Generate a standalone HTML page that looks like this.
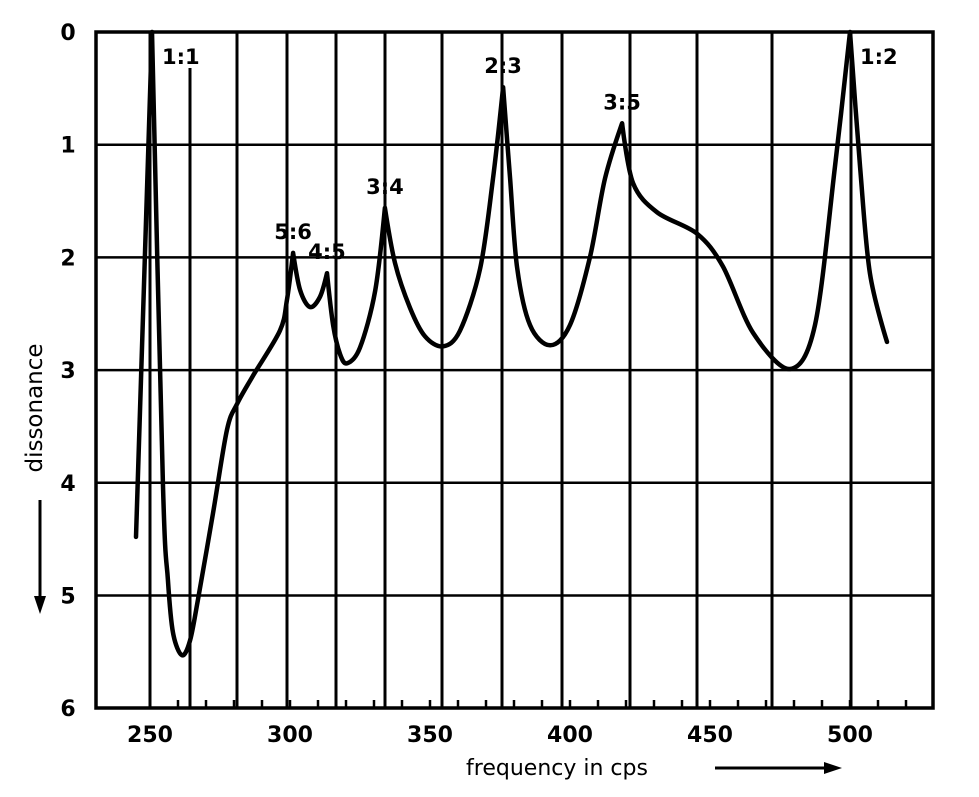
<!DOCTYPE html>
<html><head><meta charset="utf-8"><style>
html,body{margin:0;padding:0;background:#fff;}
svg{display:block;font-family:"DejaVu Sans","Liberation Sans",sans-serif;font-weight:bold;}
</style></head><body>
<svg id="chart" width="979" height="797" viewBox="0 0 979 797">
<g id="grid"></g>
<g id="axes"></g>
<g id="series"></g>
<g id="labels"></g>
<text x="42" y="408" font-size="23" font-weight="normal" transform="rotate(-90 42 408)" text-anchor="middle">dissonance</text>
<line x1="40" y1="500" x2="40" y2="600" stroke="#000" stroke-width="3"/>
<polygon points="34,596 46,596 40,614" fill="#000"/>
<text x="557" y="775" font-size="22" font-weight="normal" text-anchor="middle">frequency in cps</text>
<line x1="715" y1="768" x2="828" y2="768" stroke="#000" stroke-width="3"/>
<polygon points="824,762 824,774 842,768" fill="#000"/>
</svg>
<script>
const freqs=[245.0,250.7,254.6,256.4,258.2,261.4,264.3,267.1,272.5,277.5,281.1,286.8,296.4,298.9,301.1,303.6,307.1,310.7,313.2,315.4,317.9,320.4,325,330.4,333.9,337.5,342.9,348.2,354.6,360.7,367.9,372.5,376.1,378.6,381.1,385.7,392.9,400,407.1,412.5,418.6,422.5,431.1,445.4,454.6,465.4,478.6,487.5,494.6,500,503.6,507.1,513.2];
const dissonance=[4.48,0,4.0,4.86,5.33,5.53,5.4,5.04,4.27,3.53,3.3,3.05,2.65,2.38,1.96,2.29,2.44,2.35,2.14,2.6,2.86,2.94,2.8,2.3,1.56,2.05,2.45,2.7,2.79,2.65,2.1,1.3,0.49,1.3,2.09,2.6,2.78,2.6,2.0,1.3,0.81,1.34,1.6,1.79,2.08,2.67,2.99,2.6,1.2,0,1.2,2.14,2.75];
const xTicks=[250,300,350,400,450,500];
const yTicks=[0,1,2,3,4,5,6];
const ratioNames=["1:1","5:6","4:5","3:4","2:3","3:5","1:2"];
const ratioFreqs=[250.7,301.1,313.2,333.9,376.1,418.6,500];
const ratioDiss=[0,1.96,2.14,1.56,0.49,0.81,0];
const NS="http://www.w3.org/2000/svg";
const X=f=>150+(f-250)*2.8;
const Y=d=>32+d*112.7;
function mk(parent,tag,attrs){const e=document.createElementNS(NS,tag);for(const k in attrs)e.setAttribute(k,attrs[k]);document.getElementById(parent).appendChild(e);return e;}
const vgrid=[[150,32],[190,68],[237,32],[287,32],[336,32],[385,32],[442,32],[502,32],[562,32],[630,32],[697,32],[772,32],[851,32]];
vgrid.forEach(v=>{const l=mk('grid','line',{x1:v[0],y1:v[1],x2:v[0],y2:708,stroke:'#000','stroke-width':3});

});
yTicks.forEach(t=>{if(t===0||t===6)return;const l=mk('grid','line',{x1:96,y1:Y(t),x2:933,y2:Y(t),stroke:'#000','stroke-width':2.5});

});
for(let f=260;f<=520;f+=10){const l=mk('grid','line',{x1:X(f),y1:700,x2:X(f),y2:708,stroke:'#000','stroke-width':2.5});

}
const fr=mk('axes','rect',{x:96,y:32,width:837,height:676,fill:'none',stroke:'#000','stroke-width':3.5});


xTicks.forEach(t=>{const e=mk('axes','text',{x:X(t),y:742,'font-size':22,'text-anchor':'middle'});e.textContent=t;

});
yTicks.forEach(t=>{const e=mk('axes','text',{x:68,y:Y(t)+8,'font-size':22,'text-anchor':'middle'});e.textContent=t;

});
const P=freqs.map((f,i)=>[X(f),Y(dissonance[i])]);
const peakSet=new Set(ratioFreqs.map(f=>freqs.indexOf(f)));
let d='M'+P[0][0].toFixed(1)+','+P[0][1].toFixed(1);
const k=0.16;
for(let i=0;i<P.length-1;i++){
  const p0=P[Math.max(0,i-1)],p1=P[i],p2=P[i+1],p3=P[Math.min(P.length-1,i+2)];
  const s1=peakSet.has(i)||i===0?0:k, s2=peakSet.has(i+1)||i+1===P.length-1?0:k;
  const c1=[p1[0]+(p2[0]-p0[0])*s1,p1[1]+(p2[1]-p0[1])*s1];
  const c2=[p2[0]-(p3[0]-p1[0])*s2,p2[1]-(p3[1]-p1[1])*s2];
  d+=' C'+c1.map(v=>v.toFixed(1)).join(',')+' '+c2.map(v=>v.toFixed(1)).join(',')+' '+p2[0].toFixed(1)+','+p2[1].toFixed(1);
}
const pl=mk('series','path',{d:d,fill:'none',stroke:'#000','stroke-width':4.5,'stroke-linejoin':'round','stroke-linecap':'round'});


ratioNames.forEach((n,i)=>{const side=(i===0||i===6);const e=mk('labels','text',{x:X(ratioFreqs[i])+(side?10:0),y:side?64:Y(ratioDiss[i])-14,'font-size':21,'text-anchor':side?'start':'middle'});e.textContent=n;

});
</script>
</body></html>
